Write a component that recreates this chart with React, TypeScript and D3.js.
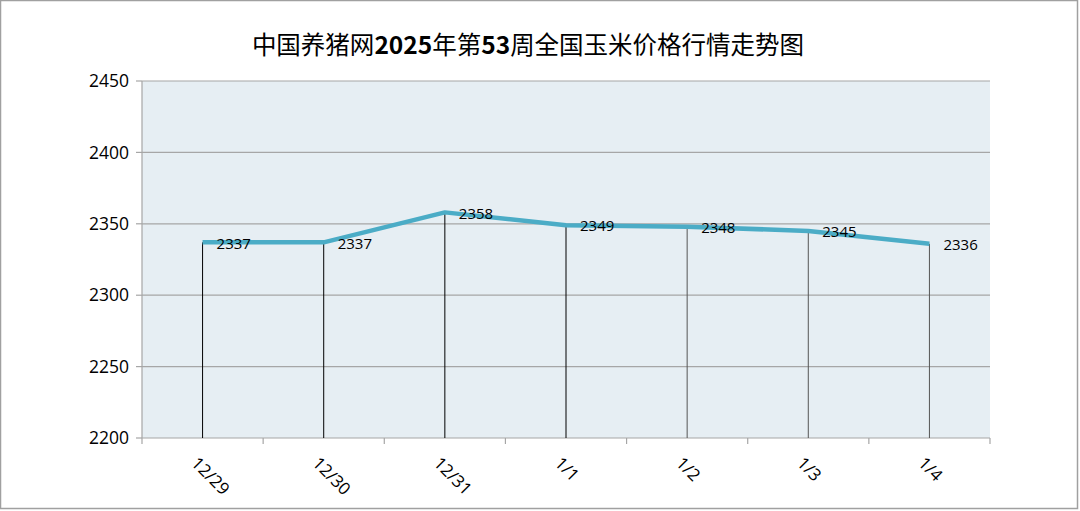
import React from "react";
import * as d3 from "d3";

const categories = ["12/29", "12/30", "12/31", "1/1", "1/2", "1/3", "1/4"];
const prices = [2337, 2337, 2358, 2349, 2348, 2345, 2336];
const yTicks = [2200, 2250, 2300, 2350, 2400, 2450];

const W = 1080;
const H = 511;
const m = { left: 142, right: 990, top: 81, bottom: 438 };

export default function App() {
  const x = d3.scaleBand<string>().domain(categories).range([m.left, m.right]).padding(0);
  const y = d3.scaleLinear().domain([2200, 2450]).range([m.bottom, m.top]);
  const cx = (c: string) => (x(c) as number) + x.bandwidth() / 2;
  const line = d3
    .line<number>()
    .x((_, i) => cx(categories[i]))
    .y((d) => y(d));
  const boundaries = categories.map((c) => x(c) as number).concat([m.right]);
  const font = "'Open Sans', 'Noto Sans', sans-serif";

  return (
    <svg
      width={W}
      height={H}
      style={{ position: "absolute", left: 0, top: 0, background: "#fff" }}
    >
      <rect x={0.5} y={0.5} width={W - 3} height={H - 3} fill="#fff" stroke="#a0a0a0" strokeWidth={1.5} />
      <text
        x={528}
        y={54}
        textAnchor="middle"
        fontFamily="'Noto Sans CJK SC', sans-serif"
        fontSize={24.5}
        fill="#000"
      >
        中国养猪网<tspan fontWeight="bold">2025</tspan>年第<tspan fontWeight="bold">53</tspan>周全国玉米价格行情走势图
      </text>
      <rect x={m.left} y={m.top} width={m.right - m.left} height={m.bottom - m.top} fill="#e6eef3" />
      {yTicks.map((t) => (
        <g key={t}>
          <line x1={m.left} x2={m.right} y1={y(t)} y2={y(t)} stroke="#a6a6a6" strokeWidth={1.2} />
          <line x1={m.left - 6} x2={m.left} y1={y(t)} y2={y(t)} stroke="#a6a6a6" strokeWidth={1.2} />
          <text x={129} y={y(t)} dy="0.35em" textAnchor="end" fontFamily={font} fontSize={17.5} fill="#000">
            {t}
          </text>
        </g>
      ))}
      <line x1={m.left} x2={m.left} y1={m.top} y2={m.bottom} stroke="#a6a6a6" strokeWidth={1.2} />
      {boundaries.map((b, i) => (
        <line key={i} x1={b} x2={b} y1={m.bottom} y2={m.bottom + 6} stroke="#a6a6a6" strokeWidth={1.2} />
      ))}
      {prices.map((p, i) => (
        <line
          key={i}
          x1={cx(categories[i])}
          x2={cx(categories[i])}
          y1={y(p)}
          y2={m.bottom}
          stroke={i < 4 ? "#000" : "#555"}
          strokeWidth={1}
        />
      ))}
      <path d={line(prices) || ""} fill="none" stroke="#4bacc6" strokeWidth={4.5} strokeLinejoin="round" />
      {prices.map((p, i) => (
        <text
          key={i}
          x={cx(categories[i]) + 14}
          y={y(p) + 1}
          dy="0.35em"
          fontFamily={font}
          fontSize={15}
          fill="#000"
        >
          {p}
        </text>
      ))}
      {categories.map((c) => (
        <text
          key={c}
          transform={`translate(${cx(c) - 8},${m.bottom + 22}) rotate(45)`}
          fontFamily={font}
          fontSize={17}
          fill="#000"
          dy="0.35em"
        >
          {c}
        </text>
      ))}
    </svg>
  );
}
